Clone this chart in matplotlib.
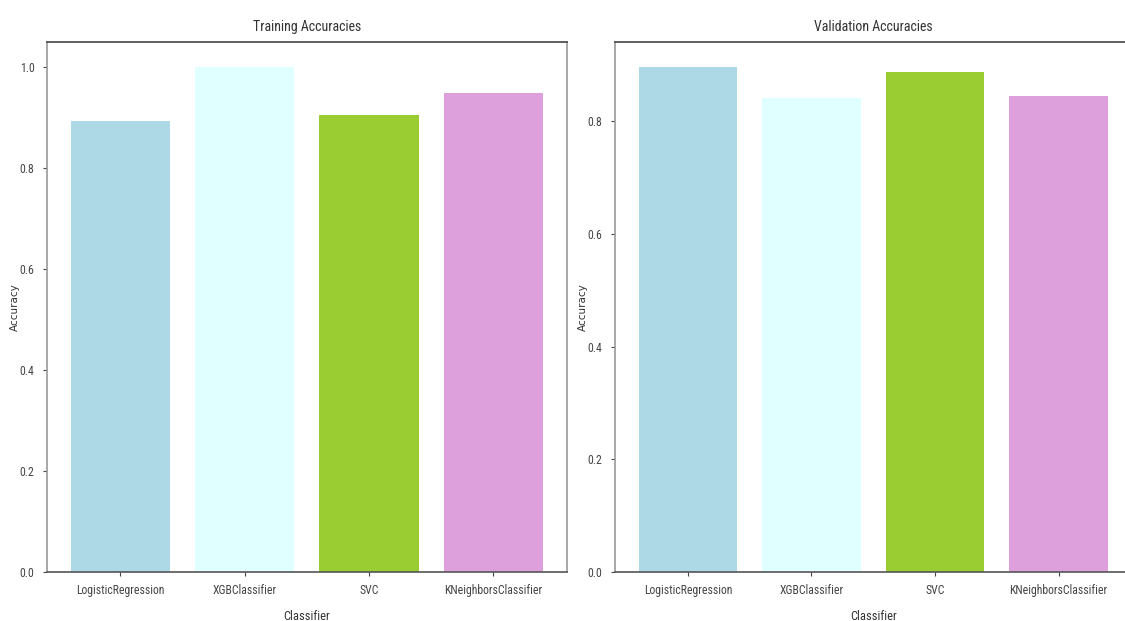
import matplotlib
matplotlib.use("Agg")
import matplotlib.pyplot as plt
from matplotlib import font_manager

# accuracy values
classifiers = ["LogisticRegression", "XGBClassifier", "SVC", "KNeighborsClassifier"]
train_acc = [0.893, 1.0, 0.905, 0.948]
val_acc = [0.896, 0.841, 0.887, 0.844]
bar_colors = ["lightblue", "lightcyan", "yellowgreen", "plum"]

# look for a narrow face, the reference text is condensed
names = {f.name for f in font_manager.fontManager.ttflist}
narrow = None
for cand in ["Liberation Sans Narrow", "Roboto Condensed", "Open Sans Condensed",
             "DejaVu Sans Condensed", "Noto Sans Condensed"]:
    if cand in names:
        narrow = cand
        break
if narrow is None:
    narrow_kw = dict(family="DejaVu Sans", fontstretch="condensed")
else:
    narrow_kw = dict(family=narrow)

fig = plt.figure(figsize=(11.25, 6.21), dpi=100, facecolor="white")
ax1 = fig.add_axes([0.0418, 0.079, 0.462, 0.8535])
ax2 = fig.add_axes([0.5467, 0.079, 0.459, 0.8535])

for ax, vals, title in [(ax1, train_acc, "Training Accuracies"),
                        (ax2, val_acc, "Validation Accuracies")]:
    ax.bar(classifiers, vals, color=bar_colors, width=0.8)
    ax.set_title(title, fontsize=10, pad=8, color="#333333", **narrow_kw)
    ax.set_xlabel("Classifier", fontsize=9, color="#333333", labelpad=9, **narrow_kw)
    ax.set_ylabel("Accuracy", fontsize=7.5, color="#333333", family="DejaVu Sans", labelpad=0)
    ax.tick_params(axis="both", colors="#444444", length=3, pad=6)
    ax.spines["top"].set_color("#444444")
    ax.spines["bottom"].set_color("#555555")
    ax.spines["left"].set_color("#999999")
    ax.spines["right"].set_color("#999999")
    for s in ax.spines.values():
        s.set_linewidth(1.2)

ax2.set_yticks([0.0, 0.2, 0.4, 0.6, 0.8])
for ax in (ax1, ax2):
    for lab in ax.get_xticklabels() + ax.get_yticklabels():
        lab.set_fontproperties(font_manager.FontProperties(size=8.5, **narrow_kw))

fig.savefig("out.png", dpi=100)
plt.close(fig)
